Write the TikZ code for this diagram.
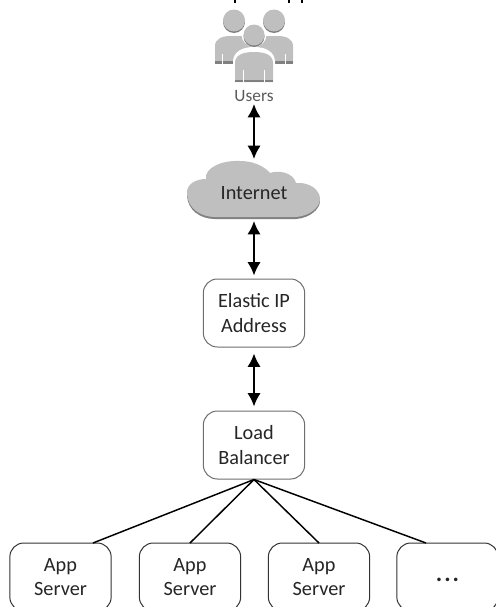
\documentclass[tikz,border=0pt]{standalone}
\usepackage{fontspec}
\setmainfont{Carlito}
\usetikzlibrary{arrows.meta}
\definecolor{gfill}{RGB}{191,191,191}
\definecolor{gdark}{RGB}{128,128,128}
\definecolor{gedge}{RGB}{110,110,110}
\tikzset{
  box/.style={draw=gedge,line width=0.75pt,rounded corners=10.5pt,fill=white,align=center,font=\fontsize{15.2}{18.6}\selectfont,text=black!85,inner sep=0pt,minimum width=76pt,minimum height=51pt},
  appbox/.style={box,draw=black!80},
  dbl/.style={draw=black,line width=1.5pt,{Latex[length=10pt,width=10pt]}-{Latex[length=10pt,width=10pt]}},
  fan/.style={draw=black,line width=1.1pt},
}
\begin{document}
\begin{tikzpicture}[x=0.75pt,y=-0.75pt]
\useasboundingbox (0,0) rectangle (496,607);
\begin{scope}
\clip (0,0) rectangle (496,607);
% cut-off strokes along the top edge
\fill[black] (233.5,0) rectangle (235.5,2.5);
\fill[black] (287.5,0) rectangle (289.5,2.5);
\fill[black] (301,0) rectangle (303,2.5);
% users icon
\foreach \cx in {234,274}{
  \fill[gdark] (\cx,22) circle (11);
  \fill[gfill] (\cx,20.5) circle (11);
}
\fill[gfill] (215,63) -- (215,46) .. controls (215,39) and (222,36) .. (230,36) -- (278,36) .. controls (286,36) and (293,39) .. (293,46) -- (293,63) -- cycle;
\fill[gdark] (215,61) rectangle (293,63.5);
\fill[white] (222,54) rectangle (223,63.5);
\fill[white] (285,54) rectangle (286,63.5);
\fill[white] (254,34.5) circle (12.5);
\fill[gdark] (254,36.5) circle (10.5);
\fill[gfill] (254,35) circle (10.5);
\fill[white] (233,82) -- (233,62) .. controls (233,52) and (242,47) .. (254,47) .. controls (266,47) and (275,52) .. (275,62) -- (275,82) -- cycle;
\fill[gfill] (235,82) -- (235,63) .. controls (235,55) and (243,52) .. (254,52) .. controls (265,52) and (273,55) .. (273,63) -- (273,82) -- cycle;
\fill[gdark] (235,79.5) rectangle (273,82);
\fill[white] (243,70) rectangle (244,82);
\fill[white] (264,70) rectangle (265,82);
\fill[white] (253.6,47) rectangle (254.4,52);
% cloud
\def\cloudpath{(187,194) .. controls (186,184) and (196,179) .. (206,179) .. controls (204,168) and (222,160) .. (240,161) .. controls (253,161) and (264,166) .. (270,173) .. controls (278,170) and (293,172) .. (296,183) .. controls (310,182) and (320,190) .. (320,199) .. controls (320,207) and (310,216) .. (296,217) -- (215,217) .. controls (200,217) and (188,208) .. (187,194) -- cycle}
\fill[gdark,yshift=-1.5pt] \cloudpath;
\fill[gfill] \cloudpath;
\end{scope}
\node[font=\fontsize{13}{15}\selectfont,text=black!65] (users) at (254,96) {Users};
\node[font=\fontsize{15.2}{18}\selectfont,text=black!85] (internet) at (254,193) {Internet};
\coordinate (cloudtop) at (254,159);
\coordinate (cloudbot) at (254,221);
\coordinate (userbot) at (254,104);
\node[box] (eip) at (254,313) {Elastic IP\\Address};
\node[box] (lb) at (254,445) {Load\\Balancer};
\node[appbox] (a1) at (60.5,577) {App\\Server};
\node[appbox] (a2) at (190,577) {App\\Server};
\node[appbox] (a3) at (319,577) {App\\Server};
\node[appbox] (a4) at (447.5,577) {\raisebox{-3.5pt}[0pt][0pt]{\fontsize{18}{18}\selectfont\bfseries .\kern1.5pt.\kern1.5pt.}};
\draw[dbl] (userbot) -- (cloudtop);
\draw[dbl,shorten >=2.25pt] (cloudbot) -- (eip.north);
\draw[dbl,shorten <=4.5pt,shorten >=3pt] (eip.south) -- (lb.north);
\draw[fan] (lb.south) -- (93,543);
\draw[fan] (lb.south) -- (190,543);
\draw[fan] (lb.south) -- (319,543);
\draw[fan] (lb.south) -- (426,543);
\end{tikzpicture}
\end{document}
